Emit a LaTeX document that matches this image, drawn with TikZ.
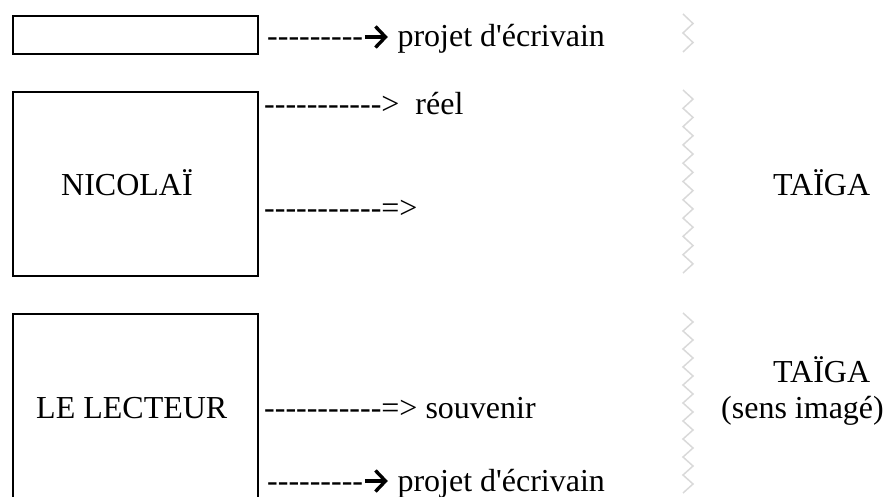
\documentclass[tikz,border=0pt]{standalone}
\usepackage{fontspec}
\usetikzlibrary{arrows.meta}
\setmainfont{Liberation Serif}
\newfontfamily\tnr[Ligatures=TeXOff]{Liberation Serif}
\newcommand\myarrow{\tikz[baseline=-10pt,x=1pt,y=1pt]\draw[line width=3.4pt,-{Straight Barb[length=10pt,width=21pt,line width=3.4pt]}] (0,0) -- (23,0);}
\begin{document}
\begin{tikzpicture}[x=1pt,y=-1pt,
  box/.style={draw, line width=2pt, inner sep=0pt, anchor=north west},
  lbl/.style={anchor=base west, inner sep=0pt, font=\tnr\fontsize{32}{38}\selectfont},
  zig/.style={draw=black!15, line width=1.5pt, line join=miter}]
\useasboundingbox (0,0) rectangle (888,497);
\clip (0,0) rectangle (888,497);
% boxes
\node[box, minimum width=245pt, minimum height=38pt]  (b1) at (12,15)  {};
\node[box, minimum width=245pt, minimum height=184pt] (b2) at (12,91)  {};
\node[box, minimum width=245pt, minimum height=220pt] (b3) at (12,313) {};
% box labels
\node[lbl] (nic) at (61,195)  {NICOLAÏ};
\node[lbl] (lec) at (36,418)  {LE LECTEUR};
% textual arrows
\node[lbl] (t1) at (267,47)  {---------\myarrow\ projet d'écrivain};
\node[lbl] (t2) at (264,115) {----------->~~réel};
\node[lbl] (t3) at (264,218) {-----------=>};
\node[lbl] (t4) at (264,418) {-----------=> souvenir};
\node[lbl] (t5) at (267,491) {---------\myarrow\ projet d'écrivain};
% right side
\node[lbl] (tg1) at (773,196) {TAÏGA};
\node[lbl] (tg2) at (773,382) {TAÏGA};
\node[lbl] (sens) at (721,418) {(sens imagé)};
% zigzag separators
\draw[zig] (683,14)  foreach \i in {1,2}      { -- ++(10,9.5)  -- ++(-10,9.5) };
\draw[zig] (683,90)  foreach \i in {1,...,10} { -- ++(10,9.15) -- ++(-10,9.15) };
\draw[zig] (683,313) foreach \i in {1,...,10} { -- ++(10,9)    -- ++(-10,9) };
\end{tikzpicture}
\end{document}
